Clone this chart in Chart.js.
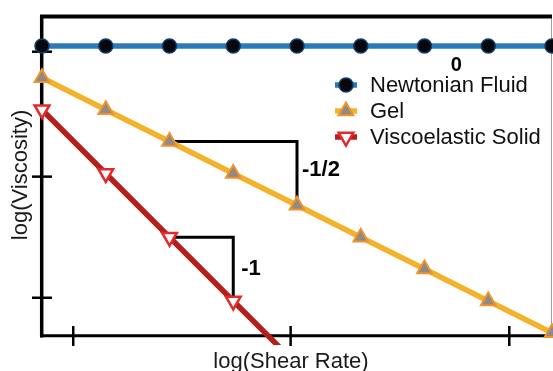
<!DOCTYPE html>
<html>
<head>
<meta charset="utf-8">
<script src="https://cdn.jsdelivr.net/npm/chart.js@4.4.1/dist/chart.umd.min.js"></script>
<style>
html, body { margin: 0; padding: 0; background: #fff; }
#wrap { width: 553px; height: 371px; }
</style>
</head>
<body>
<div id="wrap"><canvas id="flowChart" width="553" height="371"></canvas></div>
<script>
// log(shear rate) positions and log(viscosity) values
const shearRate = [0, 1, 2, 3, 4, 5, 6, 7, 8];
const newtonian = [0, 0, 0, 0, 0, 0, 0, 0, 0];
const gel = [-0.5, -1, -1.5, -2, -2.5, -3, -3.5, -4, -4.5];
const viscoSolid = [-1, -2, -3, -4, -5, -6, -7, -8, -9];
const seriesNames = ['Newtonian Fluid', 'Gel', 'Viscoelastic Solid'];

// tick mark positions (no tick labels in the figure)
const xTicks = [0.49, 3.9, 7.33];
const yTicks = [-0.09, -2.05, -3.95];

// slope guides: corner points in data units
const gelGuide = [[2, -1.5], [4, -1.5], [4, -2.5]];
const solidGuide = [[2, -3], [3, -3], [3, -4]];
const slopeLabels = ['0', '-1/2', '-1'];

const FONT = '"Liberation Sans", Arial, Helvetica, sans-serif';

const toPts = (xs, ys) => xs.map((v, i) => ({ x: v, y: ys[i] }));
const guidePts = g => g.map(p => ({ x: p[0], y: p[1] }));

const styles = [
    { line: '#2b7bba', pointStyle: 'circle', radius: 7, fill: '#05070d', edge: '#123d66', edgeW: 1.5, rot: 0 },
    { line: '#f2b22a', pointStyle: 'triangle', radius: 8.5, fill: '#8e8a86', edge: '#f0932c', edgeW: 2, rot: 0 },
    { line: '#b3201c', pointStyle: 'triangle', radius: 8.5, fill: '#ffffff', edge: '#e2292b', edgeW: 2.5, rot: 180 },
];
const series = [newtonian, gel, viscoSolid];

const datasets = series.map((s, i) => ({
    label: seriesNames[i],
    data: toPts(shearRate, s),
    borderColor: styles[i].line,
    borderWidth: 5.5,
    pointStyle: styles[i].pointStyle,
    pointRotation: styles[i].rot,
    pointRadius: styles[i].radius,
    pointBackgroundColor: styles[i].fill,
    pointBorderColor: styles[i].edge,
    pointBorderWidth: styles[i].edgeW,
    clip: i === 2 ? { left: 12, top: 12, right: 12, bottom: 9 } : 12,
    order: 3 - i,
}));

[gelGuide, solidGuide].forEach(g => {
    datasets.push({
        data: guidePts(g),
        borderColor: '#000',
        borderWidth: 3,
        pointRadius: 0,
        clip: 0,
        order: 10,
    });
});

function seg(ctx, x1, y1, x2, y2) {
    ctx.beginPath();
    ctx.moveTo(x1, y1);
    ctx.lineTo(x2, y2);
    ctx.stroke();
}

const frame = {
    id: 'frame',
    beforeDatasetsDraw(chart) {
        const { ctx, chartArea: a, scales: { x, y } } = chart;
        ctx.save();
        ctx.lineCap = 'butt';
        // right spine (thin, grey)
        ctx.strokeStyle = '#a0a0a0';
        ctx.lineWidth = 1;
        seg(ctx, a.right - 0.5, a.top, a.right - 0.5, a.bottom);
        ctx.strokeStyle = '#000';
        ctx.lineWidth = 4;
        seg(ctx, a.left - 2, a.top + 0.5, a.right, a.top + 0.5);
        ctx.lineWidth = 3.5;
        seg(ctx, a.left - 0.3, a.top, a.left - 0.3, a.bottom + 1.5);
        ctx.lineWidth = 3;
        seg(ctx, a.left - 2, a.bottom - 0.3, a.right, a.bottom - 0.3);
        // crossing tick marks
        ctx.lineWidth = 2.5;
        yTicks.forEach(v => {
            const py = y.getPixelForValue(v);
            seg(ctx, a.left - 10, py, a.left + 10, py);
        });
        xTicks.forEach(v => {
            const px = x.getPixelForValue(v);
            seg(ctx, px, a.bottom - 10, px, a.bottom + 10);
        });
        ctx.restore();
    },
    afterDatasetsDraw(chart) {
        const { ctx, chartArea: a, scales: { x, y } } = chart;
        ctx.save();
        // axis titles
        ctx.fillStyle = '#1a1a1a';
        ctx.font = '22px ' + FONT;
        ctx.textAlign = 'center';
        ctx.textBaseline = 'alphabetic';
        ctx.fillText('log(Shear Rate)', 291, 368);
        ctx.save();
        ctx.translate(27, 175);
        ctx.rotate(-Math.PI / 2);
        ctx.fillText('log(Viscosity)', 0, 0);
        ctx.restore();

        // slope labels
        ctx.fillStyle = '#000';
        ctx.font = 'bold 20px ' + FONT;
        ctx.textBaseline = 'middle';
        ctx.textAlign = 'center';
        ctx.fillText(slopeLabels[0], x.getPixelForValue(6.5), y.getPixelForValue(-0.31));
        ctx.textAlign = 'left';
        ctx.font = 'bold 22px ' + FONT;
        ctx.fillText(slopeLabels[1], x.getPixelForValue(4) + 5, y.getPixelForValue(-1.95));
        ctx.fillText(slopeLabels[2], x.getPixelForValue(3) + 8, y.getPixelForValue(-3.5));

        // legend
        const lx = 346, rows = [85, 111, 137];
        ctx.font = '22px ' + FONT;
        seriesNames.forEach((name, i) => {
            const st = styles[i];
            const ry = rows[i];
            ctx.strokeStyle = st.line;
            ctx.lineWidth = 5.5;
            seg(ctx, lx - 11, ry, lx + 11, ry);
            ctx.fillStyle = st.fill;
            ctx.strokeStyle = st.edge;
            ctx.lineWidth = st.edgeW;
            Chart.helpers.drawPoint(ctx, {
                pointStyle: st.pointStyle,
                rotation: st.rot,
                radius: st.radius,
                borderWidth: st.edgeW,
            }, lx, ry);
            ctx.fillStyle = '#111';
            ctx.textAlign = 'left';
            ctx.textBaseline = 'middle';
            ctx.fillText(name, 370, ry + 1);
        });
        ctx.restore();
    }
};

const flowChart = new Chart(document.getElementById('flowChart').getContext('2d'), {
    type: 'line',
    data: { datasets: datasets },
    options: {
        responsive: false,
        animation: false,
        events: [],
        layout: { autoPadding: false, padding: { left: 42, top: 16, right: 1, bottom: 35 } },
        plugins: {
            legend: { display: false },
            tooltip: { enabled: false },
        },
        scales: {
            x: { type: 'linear', min: 0, max: 8, display: false },
            y: { type: 'linear', min: -4.55, max: 0.47, display: false },
        },
    },
    plugins: [frame],
});
</script>
</body>
</html>
